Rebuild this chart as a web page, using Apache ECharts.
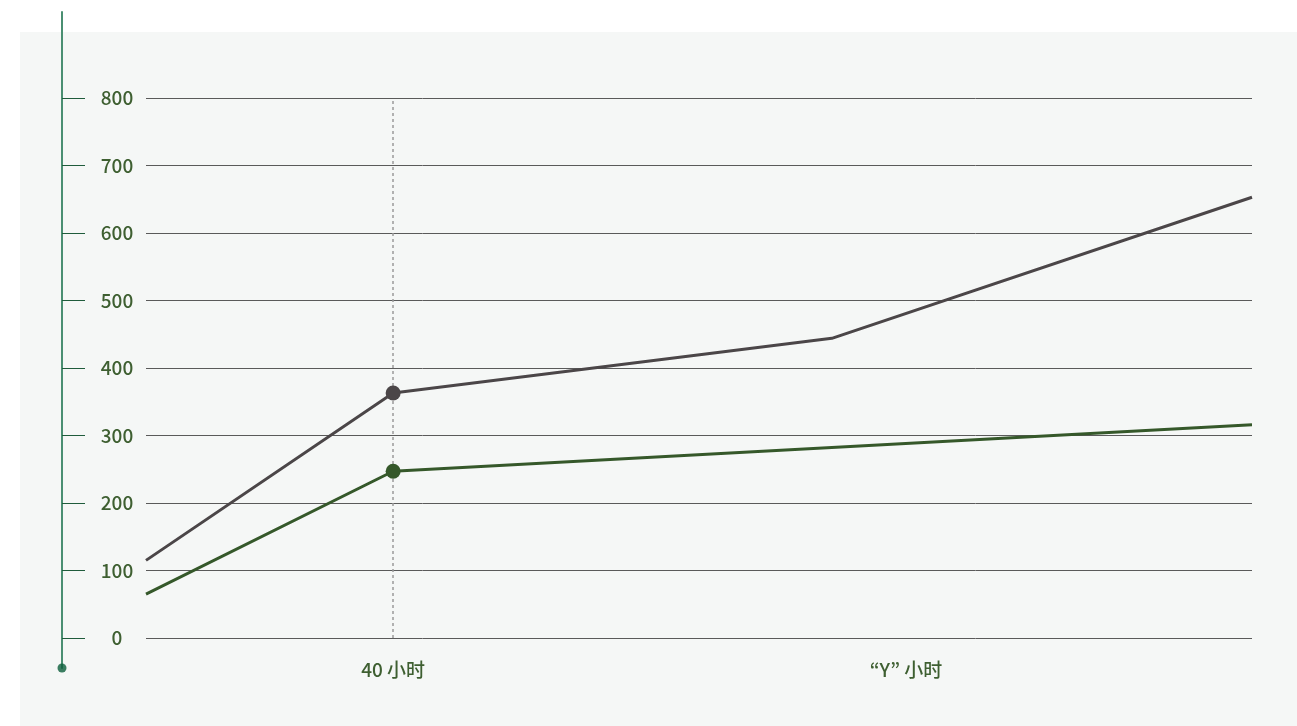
<!DOCTYPE html>
<html><head><meta charset="utf-8">
<script src="https://cdn.jsdelivr.net/npm/echarts@6/dist/echarts.min.js"></script>
<style>
html,body{margin:0;padding:0;background:#fff;width:1297px;height:726px;overflow:hidden;}
#bg{position:absolute;left:20px;top:32px;width:1277px;height:694px;background:#f5f7f6;}
#chart{position:absolute;left:0;top:0;width:1297px;height:726px;}
</style></head>
<body><div id="bg"></div><div id="chart"></div>
<script>
const grayX = [0, 40, 111, 179];
const grayY = [115, 363, 444, 653];
const greenX = [0, 40, 179];
const greenY = [65, 247, 316];
const xLabelValues = [40, 123];
const xLabelTexts = ['40 小时', '“Y” 小时'];
const markerX = 40;
const yMin = 0, yMax = 800, yStep = 100;
const xMin = 0, xMax = 179;

const FONT = '"Noto Sans CJK JP", "Noto Sans CJK SC", sans-serif';
function pts(xs, ys) {
  return xs.map((x, i) => x === markerX ? {value: [x, ys[i]]} : {value: [x, ys[i]], symbol: 'none'});
}
const chart = echarts.init(document.getElementById('chart'), null, {renderer: 'canvas'});
chart.setOption({
  backgroundColor: 'transparent',
  animation: false,
  grid: [
    {left: 146, right: 45, top: 98, bottom: 88},
    {left: 62, width: 1, top: 12, bottom: 58},
    {left: 62, width: 1, top: 98, bottom: 88}
  ],
  xAxis: [
    {type: 'value', gridIndex: 0, min: xMin, max: xMax,
     axisLine: {show: false}, axisTick: {show: false}, splitLine: {show: false},
     axisLabel: {customValues: xLabelValues, margin: 22, color: '#3e5f31', fontSize: 19, fontFamily: FONT, fontWeight: 500,
       formatter: v => xLabelTexts[xLabelValues.indexOf(v)] || ''}},
    {type: 'value', gridIndex: 1, show: false, min: 0, max: 1},
    {type: 'value', gridIndex: 2, show: false, min: 0, max: 1}
  ],
  yAxis: [
    {type: 'value', gridIndex: 0, min: yMin, max: yMax, interval: yStep,
     axisLine: {show: false}, axisTick: {show: false}, axisLabel: {show: false},
     splitLine: {show: true, lineStyle: {color: '#5a5a5a', width: 1}}},
    {type: 'value', gridIndex: 1, min: 0, max: 1,
     axisLine: {show: true, lineStyle: {color: '#4a8f72', width: 2}},
     axisTick: {show: false}, axisLabel: {show: false}, splitLine: {show: false}},
    {type: 'value', gridIndex: 2, min: yMin, max: yMax, interval: yStep,
     axisLine: {show: false},
     axisTick: {show: true, inside: true, length: 23, lineStyle: {color: '#1f5c3c', width: 1}},
     axisLabel: {inside: true, margin: 55, align: 'center', color: '#3e5f31', fontSize: 19, fontFamily: FONT, fontWeight: 500},
     splitLine: {show: false}}
  ],
  series: [
    {type: 'line', xAxisIndex: 0, yAxisIndex: 0, data: [], z: 1,
     markLine: {silent: true, symbol: 'none', label: {show: false}, z: 1,
       lineStyle: {color: '#9a9a9a', type: [3, 3], width: 1.5}, data: [{xAxis: markerX}]}},
    {type: 'line', xAxisIndex: 0, yAxisIndex: 0, data: pts(grayX, grayY), z: 3,
     symbol: 'circle', symbolSize: 15, showSymbol: true,
     lineStyle: {color: '#4b4648', width: 3}, itemStyle: {color: '#4b4648'}},
    {type: 'line', xAxisIndex: 0, yAxisIndex: 0, data: pts(greenX, greenY), z: 3,
     symbol: 'circle', symbolSize: 15, showSymbol: true,
     lineStyle: {color: '#35582a', width: 3}, itemStyle: {color: '#35582a'}},
    {type: 'scatter', xAxisIndex: 1, yAxisIndex: 1, data: [[0, 0]], symbol: 'circle', symbolSize: 9, z: 5,
     itemStyle: {color: '#0b5e3b'}, silent: true}
  ]
});
</script></body></html>
